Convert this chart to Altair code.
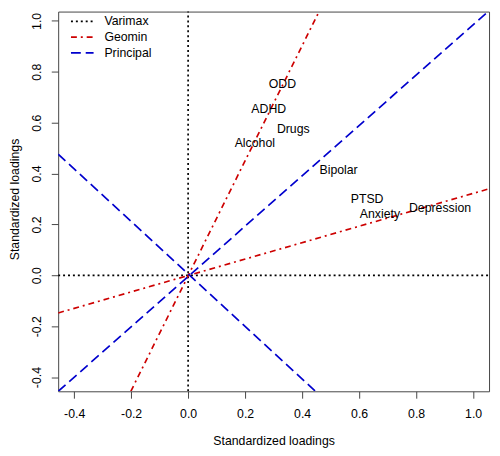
import altair as alt
import pandas as pd

# ---- data ----
methods = ["Varimax", "Varimax", "Geomin", "Geomin", "Principal", "Principal"]
x_start = [0.0, -0.456, -0.201, -0.456, -0.456, -0.456]
y_start = [-0.456, 0.0, -0.456, -0.148, -0.456, 0.476]
x_end = [0.0, 1.056, 0.468, 1.056, 1.056, 0.447]
y_end = [1.056, 0.0, 1.056, 0.340, 1.040, -0.456]

labels = ["ODD", "ADHD", "Drugs", "Alcohol", "Bipolar", "PTSD", "Anxiety", "Depression"]
load_x = [0.331, 0.283, 0.369, 0.234, 0.528, 0.628, 0.673, 0.884]
load_y = [0.750, 0.654, 0.576, 0.518, 0.414, 0.298, 0.240, 0.263]

tick_values = [-0.4, -0.2, 0.0, 0.2, 0.4, 0.6, 0.8, 1.0]
method_order = ["Varimax", "Geomin", "Principal"]
method_colors = ["#000000", "#CD0000", "#0000CD"]
method_dash = [[2, 3], [6, 4, 2, 4], [10, 5]]

lines = pd.DataFrame({"method": methods, "x": x_start, "y": y_start,
                      "x2": x_end, "y2": y_end})
pts = pd.DataFrame({"label": labels, "x": load_x, "y": load_y})

FONT = "Liberation Sans"
label_expr = "datum.value < 0 ? '-' + format(-datum.value, '.1f') : format(datum.value, '.1f')"

xscale = alt.Scale(domain=[-0.456, 1.056], nice=False, zero=False)
yscale = alt.Scale(domain=[-0.456, 1.0367], nice=False, zero=False)

xaxis = alt.Axis(values=tick_values, labelExpr=label_expr, title="Standardized loadings",
                 titleX=219, titleY=44, titleBaseline="top", titleAlign="center",
                 labelPadding=10, grid=False)
yaxis = alt.Axis(values=tick_values, labelExpr=label_expr, title="Standardized loadings",
                 labelAngle=270, labelAlign="center", labelBaseline="bottom",
                 labelPadding=8, titleAngle=270, titleX=-37, titleY=190.5,
                 titleAlign="center", titleBaseline="bottom", grid=False)

leg = alt.Legend(title=None, orient="none", legendX=12, legendY=3.25)

rules = alt.Chart(lines).mark_rule(strokeWidth=1.7, clip=True).encode(
    x=alt.X("x:Q", scale=xscale, axis=xaxis),
    y=alt.Y("y:Q", scale=yscale, axis=yaxis),
    x2="x2:Q",
    y2="y2:Q",
    color=alt.Color("method:N", scale=alt.Scale(domain=method_order, range=method_colors),
                    legend=leg),
    strokeDash=alt.StrokeDash("method:N",
                              scale=alt.Scale(domain=method_order, range=method_dash),
                              legend=leg),
)

texts = alt.Chart(pts).mark_text(font=FONT, fontSize=12.5, color="black",
                                 align="center", baseline="middle").encode(
    x=alt.X("x:Q", scale=xscale),
    y=alt.Y("y:Q", scale=yscale),
    text="label:N",
)

chart = alt.layer(rules, texts).properties(
    width=438, height=386,
    autosize=alt.AutoSizeParams(type="none"),
    padding={"left": 51, "top": 0, "right": 3, "bottom": 54},
    background="white",
).configure_view(
    stroke="#444444", strokeWidth=1, fill="white"
).configure_axis(
    domain=False, tickSize=7, tickColor="#444444", tickWidth=1,
    labelFont=FONT, labelFontSize=12.5, labelColor="black",
    titleFont=FONT, titleFontSize=12.5, titleColor="black", titleFontWeight="normal",
).configure_legend(
    symbolType="stroke", symbolSize=529, symbolStrokeWidth=1.7, clipHeight=13.5,
    rowPadding=2, labelOffset=10, labelFont=FONT, labelFontSize=12.5,
    labelColor="black", padding=0,
)

chart.save("out.html", embed_options={"renderer": "svg", "actions": False})
